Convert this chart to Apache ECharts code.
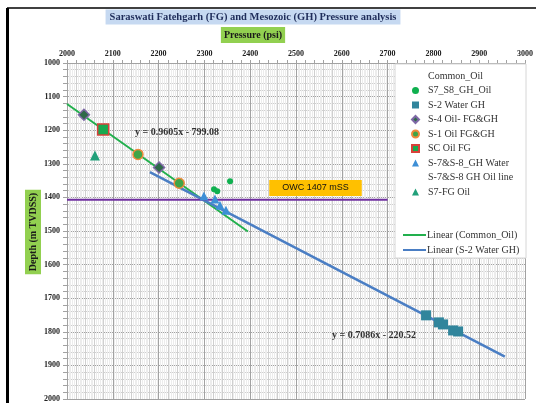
<!DOCTYPE html>
<html>
<head>
<meta charset="utf-8">
<script src="https://cdn.jsdelivr.net/npm/echarts@6/dist/echarts.min.js"></script>
<style>
  html, body { margin: 0; padding: 0; background: #fff; }
  #chart { width: 536px; height: 403px; }
</style>
</head>
<body>
<div id="chart"></div>
<script>
// Pressure (psi) vs depth (m TVDSS) readings per well group
const s7s8GhOil   = [[2321, 1376], [2328, 1382], [2356, 1352]];
const s2WaterGh   = [[2784, 1751], [2812, 1772], [2821, 1778], [2843, 1796], [2854, 1799]];
const s4OilFgGh   = [[2037, 1154], [2201, 1311]];
const s1OilFgGh   = [[2155, 1272], [2245, 1358]];
const scOilFg     = [[2079, 1198]];
const s7s8GhWater = [[2299, 1396], [2323, 1405], [2334, 1423], [2347, 1438]];
const s7FgOil     = [[2061, 1275]];

// Linear fits: [slope, intercept] and the pressure range each one spans
const oilFit    = [0.9605, -799.08];
const oilFitX   = [2000, 2395];
const waterFit  = [0.7086, -220.52];
const waterFitX = [2181, 2956];

// Oil-water contact depth and its drawn pressure span
const owcDepth = 1407;
const owcX     = [2000, 2700];

const xTicks = [2000, 3000, 100];
const yTicks = [1000, 2000, 100];

const fitLine = (fit, xs) => xs.map(x => [x, +(fit[0] * x + fit[1]).toFixed(2)]);

const serif = 'Liberation Serif';
const chart = echarts.init(document.getElementById('chart'), null, { renderer: 'canvas' });

const darkEvery5 = ['#a2a2a2', '#cfcfcf', '#cfcfcf', '#cfcfcf', '#cfcfcf'];

const legendNames1 = ['Common_Oil', 'S7_S8_GH_Oil', 'S-2 Water GH', 'S-4 Oil- FG&GH', 'S-1 Oil FG&GH',
  'SC Oil FG', 'S-7&S-8_GH Water', 'S-7&S-8 GH Oil line', 'S7-FG Oil'];
const legendNames2 = ['Linear (Common_Oil)', 'Linear (S-2 Water GH)'];

const scatter = (name, data, symbol, size, color, border, bw) => ({
  name, type: 'scatter', data, symbol, symbolSize: size, z: 4,
  itemStyle: { color, borderColor: border || color, borderWidth: bw || 0, opacity: 1 }
});

const option = {
  animation: false,
  backgroundColor: '#fff',
  grid: { left: 67, top: 63, width: 458, height: 338, containLabel: false },
  xAxis: {
    type: 'value', position: 'top',
    min: xTicks[0], max: xTicks[1], interval: 20,
    axisLine: { show: true, lineStyle: { color: '#a2a2a2' } },
    axisTick: { show: true, length: 3, inside: false, lineStyle: { color: '#a2a2a2' } },
    axisLabel: {
      margin: 5, fontFamily: serif, fontWeight: 'bold', fontSize: 8, color: '#222',
      formatter: v => (v % xTicks[2] === 0 ? String(v) : '')
    },
    splitLine: { show: true, lineStyle: { color: darkEvery5, width: 1 } },
    minorTick: { show: false },
    minorSplitLine: { show: true, lineStyle: { color: '#ececec', width: 1 } }
  },
  yAxis: {
    type: 'value', inverse: true,
    min: yTicks[0], max: yTicks[1], interval: 20,
    axisLine: { show: true, lineStyle: { color: '#a2a2a2' } },
    axisTick: { show: true, length: 4, lineStyle: { color: '#a2a2a2' } },
    axisLabel: {
      margin: 7, fontFamily: serif, fontWeight: 'bold', fontSize: 8, color: '#222',
      formatter: v => (v % yTicks[2] === 0 ? String(v) : '')
    },
    splitLine: { show: true, lineStyle: { color: darkEvery5, width: 1 } }
  },
  legend: [
    {
      data: legendNames1, orient: 'vertical', left: 406, top: 66, padding: 5,
      itemWidth: 7, itemHeight: 7, itemGap: 4.5, symbolKeepAspect: true,
      textStyle: { fontFamily: serif, fontSize: 10, color: '#333', lineHeight: 10, padding: [0, 0, 0, 4] },
      selectedMode: false, z: 6
    },
    {
      data: legendNames2.map(name => ({ name, icon: 'rect' })), orient: 'vertical', left: 398, top: 225, padding: 5,
      itemWidth: 23, itemHeight: 2, itemGap: 5,
      textStyle: { fontFamily: serif, fontSize: 10, color: '#333', lineHeight: 10, padding: [0, 0, 0, -4] },
      selectedMode: false, z: 6
    }
  ],
  series: [
    scatter('Common_Oil', [], 'circle', 6, 'rgba(0,0,0,0)'),
    scatter('S7_S8_GH_Oil', s7s8GhOil, 'circle', 6, '#0fb04f'),
    scatter('S-2 Water GH', s2WaterGh, 'rect', 10, '#31859c'),
    scatter('S-4 Oil- FG&GH', s4OilFgGh, 'diamond', 11, '#2f6a49', '#7e68a6', 1.5),
    scatter('S-1 Oil FG&GH', s1OilFgGh, 'circle', 10, '#3fa548', '#ef8a3c', 1.5),
    scatter('SC Oil FG', scOilFg, 'rect', 11, '#18a94f', '#d8413a', 1.5),
    scatter('S-7&S-8_GH Water', s7s8GhWater, 'triangle', 9, '#3d8fd6'),
    scatter('S-7&S-8 GH Oil line', [], 'circle', 6, 'rgba(0,0,0,0)'),
    scatter('S7-FG Oil', s7FgOil, 'triangle', 10, '#21a07a'),
    {
      name: 'Linear (Common_Oil)', type: 'line', data: fitLine(oilFit, oilFitX),
      symbol: 'none', z: 3, lineStyle: { color: '#22b04d', width: 2 }, itemStyle: { color: '#22b04d' }
    },
    {
      name: 'Linear (S-2 Water GH)', type: 'line', data: fitLine(waterFit, waterFitX),
      symbol: 'none', z: 3, lineStyle: { color: '#4a7ec4', width: 2.5 }, itemStyle: { color: '#4a7ec4' }
    },
    {
      name: 'OWC', type: 'line', data: owcX.map(x => [x, owcDepth]),
      symbol: 'none', z: 3, lineStyle: { color: '#7030a0', width: 2 }, itemStyle: { color: '#7030a0' }
    }
  ],
  graphic: [
    // outer frame
    { type: 'line', shape: { x1: 7, y1: 8, x2: 536, y2: 8 }, style: { stroke: '#000', lineWidth: 1.5 }, z: 10 },
    { type: 'line', shape: { x1: 7.5, y1: 8, x2: 7.5, y2: 403 }, style: { stroke: '#000', lineWidth: 3 }, z: 10 },
    // legend panel
    { type: 'rect', shape: { x: 395, y: 64, width: 131, height: 194 },
      style: { fill: '#fff', stroke: '#d6d6d6', lineWidth: 1 }, z: 5 },
    // titles
    { type: 'text', x: 253, y: 17, z: 10,
      style: { text: 'Saraswati Fatehgarh (FG) and Mesozoic (GH) Pressure analysis', fontFamily: serif,
        fontWeight: 'bold', fontSize: 10.5, fill: '#1f2d5a', align: 'center', verticalAlign: 'middle',
        backgroundColor: '#c6d9f1', padding: [2, 4] } },
    { type: 'text', x: 253, y: 35, z: 10,
      style: { text: 'Pressure (psi)', fontFamily: serif, fontWeight: 'bold', fontSize: 10, fill: '#1a1a1a',
        align: 'center', verticalAlign: 'middle', backgroundColor: '#92d050', padding: [3, 3] } },
    { type: 'text', x: 33, y: 232, rotation: Math.PI / 2, z: 10,
      style: { text: 'Depth (m TVDSS)', fontFamily: serif, fontWeight: 'bold', fontSize: 10, fill: '#1a1a1a',
        align: 'center', verticalAlign: 'middle', backgroundColor: '#92d050', padding: [3, 3] } },
    // fit equations
    { type: 'text', x: 177, y: 132, z: 10,
      style: { text: 'y = 0.9605x - 799.08', fontFamily: serif, fontWeight: 'bold', fontSize: 10, fill: '#333',
        align: 'center', verticalAlign: 'middle' } },
    { type: 'text', x: 374, y: 335, z: 10,
      style: { text: 'y = 0.7086x - 220.52', fontFamily: serif, fontWeight: 'bold', fontSize: 10, fill: '#333',
        align: 'center', verticalAlign: 'middle' } },
    // contact label
    { type: 'text', x: 315.5, y: 188, z: 10,
      style: { text: 'OWC 1407 mSS', fontFamily: 'Liberation Sans', fontSize: 9, fill: '#111',
        align: 'center', verticalAlign: 'middle', backgroundColor: '#ffc000', padding: [4, 13, 3, 13] } }
  ]
};

chart.setOption(option);
</script>
</body>
</html>
